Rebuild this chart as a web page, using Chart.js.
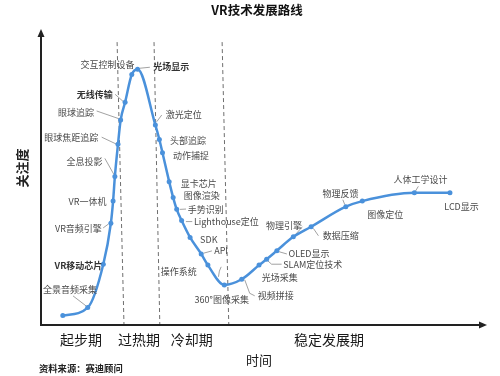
<!DOCTYPE html>
<html>
<head>
<meta charset="utf-8">
<script src="https://cdn.jsdelivr.net/npm/chart.js@4"></script>
<style>
html,body{margin:0;padding:0;background:#fff;}
#wrap{width:500px;height:376px;}
</style>
</head>
<body>
<div id="wrap"><canvas id="c" width="500" height="376"></canvas></div>
<script>
// ---- data (time axis 0..100, attention axis 0..100) ----
const techNames = ['', '全景音频采集', 'VR移动芯片', 'VR音频引擎', 'VR一体机', '全息投影', '眼球焦距追踪', '眼球追踪', '无线传输', '交互控制设备', '光场显示',
  '激光定位', '头部追踪', '动作捕捉', '显卡芯片', '图像渲染', '手势识别', 'Lighthouse定位', 'SDK', 'API', '操作系统', '360°图像采集',
  '视频拼接', '光场采集', 'SLAM定位技术', 'OLED显示', '物理引擎', '数据压缩', '物理反馈', '图像定位', '人体工学设计', 'LCD显示'];
const timeX = [4.9, 10.5, 14.0, 15.7, 16.2, 16.6, 17.3, 17.9, 18.9, 20.4, 21.7,
  25.7, 26.6, 27.3, 28.8, 29.7, 30.5, 31.6, 33.5, 36.0, 37.5, 41.2,
  45.1, 49.0, 50.7, 53.0, 56.7, 60.7, 68.5, 72.2, 83.9, 91.9];
const attention = [3.2, 5.9, 20.6, 34.5, 42.0, 50.3, 61.3, 69.5, 75.5, 84.9, 86.7,
  67.8, 62.9, 58.4, 48.6, 43.2, 39.2, 35.4, 29.7, 24.1, 20.3, 13.6,
  15.5, 20.3, 22.3, 25.2, 29.9, 33.3, 40.1, 42.0, 44.8, 44.8];
const phaseNames = ['起步期', '过热期', '冷却期', '稳定发展期'];
const phaseLabelX = [9.0, 22.0, 33.9, 64.7];
const boundaryTopX = [17.1, 25.4, 40.7];
const boundaryBottomX = [18.65, 26.7, 42.2];
const boundaryTopY = 95.9;
const titleText = 'VR技术发展路线';
const yTitle = '关注度';
const xTitle = '时间';
const sourceText = '资料来源：赛迪顾问';

// ---- label layout (pixel offsets from each point) ----
const labelLayout = [
  null,
  {dx:-17.7, dy:-17.7, a:'center', lead:[[-14.7,-11.7],[-1.7,-1.7]]},
  {dx:-1, dy:1, a:'right', bold:true},
  {dx:-9, dy:5, a:'right', lead:[[-7.7,4.7],[-2.7,1]]},
  {dx:-6.6, dy:0.5, a:'right'},
  {dx:-12.3, dy:-15.5, a:'right', lead:[[-10,-18.2],[-1,-2.2]]},
  {dx:-19.7, dy:-6.5, a:'right', lead:[[-16.3,-7],[-1.5,0]]},
  {dx:-26.7, dy:-7.7, a:'right', lead:[[-24,-9],[-1,-1]]},
  {dx:-12.3, dy:-8, a:'right', bold:true, lead:[[-10,-8],[-1.7,-0.6]]},
  {dx:2.6, dy:-10, a:'right'},
  {dx:15.6, dy:-2.6, a:'left', bold:true, lead:[[2.3,-1],[12.3,-2]]},
  {dx:10.4, dy:-10, a:'left', lead:[[1.4,-3.3],[6.4,-10]]},
  {dx:10.7, dy:0.7, a:'left'},
  {dx:10.6, dy:3.3, a:'left'},
  {dx:11.7, dy:1.6, a:'left'},
  {dx:10.7, dy:-1.7, a:'left'},
  {dx:11, dy:0, a:'left', lead:[[3.3,0],[9.3,-0.3]]},
  {dx:12.3, dy:1, a:'left', lead:[[4.3,1],[10.6,1]]},
  {dx:10, dy:1.7, a:'left'},
  {dx:13, dy:-3, a:'left', lead:[[2.3,-0.7],[10.7,-3]]},
  {dx:-11, dy:6.7, a:'right', lead:[[10.6,11.7],[11.5,6],[13.3,1.7]]},
  {dx:-2.6, dy:15, a:'center'},
  {dx:16, dy:16.7, a:'left', lead:[[3,0.5],[8,14],[13,16.5]]},
  {dx:2.7, dy:12.3, a:'left'},
  {dx:16.6, dy:5, a:'left', lead:[[1,1.5],[5,5],[15,5]]},
  {dx:11.6, dy:3.3, a:'left', lead:[[2,1],[10,3.3]]},
  {dx:8.7, dy:-11.7, a:'right', lead:[[1.5,-1.5],[9,-10]]},
  {dx:11.7, dy:9, a:'left', lead:[[2.3,1.7],[7.3,9]]},
  {dx:-5.4, dy:-13.4, a:'center', lead:[[-3,-7],[-1,-2]]},
  {dx:5, dy:13.3, a:'left'},
  {dx:6.2, dy:-13.4, a:'center', lead:[[1,-1.5],[4,-6.5]]},
  {dx:-5.7, dy:13.3, a:'left'}
];

const FONT = '"Noto Sans CJK SC", "Noto Sans", sans-serif';
const curveColor = '#4a91db';

const datasets = [{
  data: timeX.map((x, i) => ({x: x, y: attention[i]})),
  borderColor: curveColor,
  backgroundColor: curveColor,
  borderWidth: 2.5,
  pointRadius: 2.5,
  pointBackgroundColor: curveColor,
  pointBorderWidth: 0,
  cubicInterpolationMode: 'monotone',
  order: 0
}];
boundaryTopX.forEach((tx, i) => {
  datasets.push({
    data: [{x: tx, y: boundaryTopY}, {x: boundaryBottomX[i], y: 0}],
    borderColor: '#6e6e6e',
    borderWidth: 1,
    borderDash: [4, 3],
    pointRadius: 0,
    order: 5
  });
});

const annot = {
  id: 'annot',
  beforeDatasetsDraw(chart) {
    const ctx = chart.ctx, xs = chart.scales.x, ys = chart.scales.y;
    ctx.save();
    ctx.strokeStyle = '#8a8a8a';
    ctx.lineWidth = 0.8;
    labelLayout.forEach((L, i) => {
      if (!L || !L.lead) return;
      const px = xs.getPixelForValue(timeX[i]), py = ys.getPixelForValue(attention[i]);
      ctx.beginPath();
      L.lead.forEach((p, k) => {
        if (k === 0) ctx.moveTo(px + p[0], py + p[1]); else ctx.lineTo(px + p[0], py + p[1]);
      });
      ctx.stroke();
    });
    ctx.restore();
  },
  afterDatasetsDraw(chart) {
    const ctx = chart.ctx, xs = chart.scales.x, ys = chart.scales.y;
    const ca = chart.chartArea;
    ctx.save();
    // axes
    ctx.strokeStyle = '#222';
    ctx.fillStyle = '#222';
    ctx.lineWidth = 2;
    ctx.beginPath();
    ctx.moveTo(ca.left, ca.top + 4);
    ctx.lineTo(ca.left, ca.bottom);
    ctx.lineTo(ca.right - 4, ca.bottom);
    ctx.stroke();
    ctx.beginPath();
    ctx.moveTo(ca.left, ca.top - 1);
    ctx.lineTo(ca.left - 3.5, ca.top + 7);
    ctx.lineTo(ca.left + 3.5, ca.top + 7);
    ctx.closePath();
    ctx.fill();
    ctx.beginPath();
    ctx.moveTo(ca.right + 1, ca.bottom);
    ctx.lineTo(ca.right - 7, ca.bottom - 3.5);
    ctx.lineTo(ca.right - 7, ca.bottom + 3.5);
    ctx.closePath();
    ctx.fill();

    // point labels
    ctx.textBaseline = 'middle';
    labelLayout.forEach((L, i) => {
      if (!L) return;
      const px = xs.getPixelForValue(timeX[i]), py = ys.getPixelForValue(attention[i]);
      ctx.font = (L.bold ? 'bold ' : '') + '9px ' + FONT;
      ctx.fillStyle = L.bold ? '#333' : '#4a4a4a';
      ctx.textAlign = L.a;
      ctx.fillText(techNames[i], px + L.dx, py + L.dy);
    });

    // phase labels
    ctx.font = '14px ' + FONT;
    ctx.fillStyle = '#1a1a1a';
    ctx.textAlign = 'center';
    phaseNames.forEach((n, i) => {
      ctx.fillText(n, xs.getPixelForValue(phaseLabelX[i]), ca.bottom + 15);
    });
    // x title
    ctx.font = '13px ' + FONT;
    ctx.fillText(xTitle, 259, ca.bottom + 35);
    // title
    ctx.font = 'bold 12.5px ' + FONT;
    ctx.fillStyle = '#111';
    ctx.fillText(titleText, 257, 10.5);
    // source
    ctx.font = 'bold 9.3px ' + FONT;
    ctx.textAlign = 'left';
    ctx.fillStyle = '#222';
    ctx.fillText(sourceText, 39, 368);
    // y title
    ctx.save();
    ctx.translate(22, 168);
    ctx.rotate(-Math.PI / 2);
    ctx.textAlign = 'center';
    ctx.font = 'bold 13px ' + FONT;
    ctx.fillStyle = '#222';
    ctx.fillText(yTitle, 0, 0);
    ctx.restore();
    ctx.restore();
  }
};

new Chart(document.getElementById('c'), {
  type: 'line',
  data: {datasets: datasets},
  options: {
    responsive: false,
    animation: false,
    layout: {padding: {left: 41, right: 14, top: 30, bottom: 51}},
    scales: {
      x: {type: 'linear', min: 0, max: 100, display: false},
      y: {type: 'linear', min: 0, max: 100, display: false}
    },
    plugins: {legend: {display: false}, tooltip: {enabled: false}, title: {display: false}}
  },
  plugins: [annot]
});
</script>
</body>
</html>
